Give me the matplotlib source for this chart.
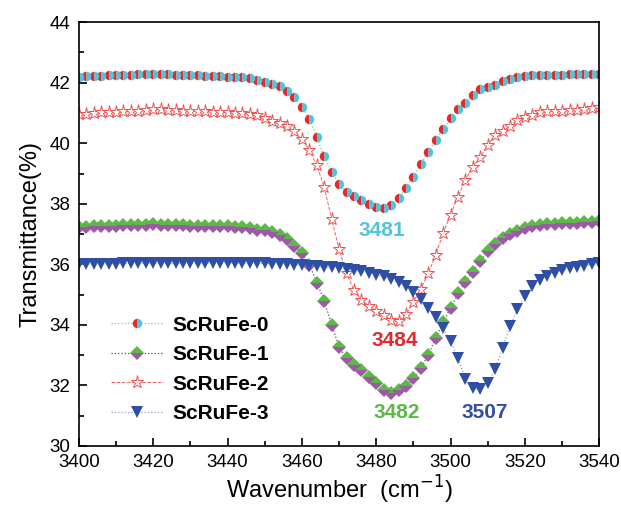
import matplotlib
matplotlib.use("Agg")
import matplotlib.pyplot as plt
import numpy as np
from matplotlib.ticker import MultipleLocator

plt.rcParams['font.family'] = ['Liberation Sans', 'DejaVu Sans']

# wavenumber grid (cm-1)
wavenumber = np.arange(3400, 3541, 2)

scrufe0 = [42.20, 42.22, 42.23, 42.23, 42.24, 42.25, 42.26, 42.27, 42.28, 42.30,
           42.30, 42.29, 42.28, 42.27, 42.26, 42.25, 42.24, 42.23, 42.22, 42.21,
           42.20, 42.19, 42.18, 42.16, 42.08, 42.02, 41.97, 41.89, 41.73, 41.52,
           41.21, 40.80, 40.20, 39.58, 39.05, 38.66, 38.40, 38.27, 38.14, 38.00,
           37.90, 37.86, 37.96, 38.20, 38.51, 38.90, 39.33, 39.70, 40.10, 40.46,
           40.83, 41.12, 41.32, 41.58, 41.79, 41.87, 41.94, 42.05, 42.13, 42.19,
           42.22, 42.24, 42.25, 42.26, 42.27, 42.27, 42.28, 42.30, 42.28, 42.28,
           42.30]

scrufe1 = [37.22, 37.24, 37.25, 37.26, 37.27, 37.28, 37.29, 37.30, 37.31, 37.31,
           37.32, 37.31, 37.30, 37.30, 37.29, 37.28, 37.28, 37.27, 37.26, 37.26,
           37.25, 37.24, 37.23, 37.20, 37.15, 37.12, 37.06, 36.98, 36.84, 36.62,
           36.37, 35.98, 35.40, 34.80, 34.00, 33.27, 32.89, 32.67, 32.52, 32.28,
           32.09, 31.84, 31.76, 31.86, 31.99, 32.23, 32.56, 33.02, 33.57, 34.09,
           34.55, 35.04, 35.42, 35.76, 36.12, 36.43, 36.66, 36.86, 37.00, 37.10,
           37.19, 37.25, 37.30, 37.33, 37.34, 37.35, 37.36, 37.37, 37.39, 37.41,
           37.44]

scrufe2 = [40.98, 40.98, 41.00, 41.02, 41.03, 41.04, 41.05, 41.06, 41.08, 41.10,
           41.12, 41.12, 41.11, 41.10, 41.08, 41.07, 41.06, 41.05, 41.04, 41.03,
           41.02, 41.00, 40.99, 40.96, 40.93, 40.85, 40.74, 40.67, 40.56, 40.40,
           40.13, 39.78, 39.27, 38.55, 37.50, 36.50, 35.70, 35.15, 34.83, 34.63,
           34.46, 34.32, 34.16, 34.12, 34.35, 34.75, 35.20, 35.70, 36.32, 37.03,
           37.64, 38.23, 38.80, 39.22, 39.53, 39.94, 40.27, 40.39, 40.58, 40.76,
           40.86, 40.94, 41.02, 41.05, 41.07, 41.08, 41.09, 41.11, 41.13, 41.17,
           41.20]

scrufe3 = [36.00, 36.01, 36.01, 36.02, 36.02, 36.02, 36.03, 36.03, 36.03, 36.04,
           36.04, 36.04, 36.03, 36.03, 36.03, 36.03, 36.04, 36.05, 36.06, 36.06,
           36.06, 36.05, 36.04, 36.04, 36.03, 36.03, 36.02, 36.01, 36.00, 35.99,
           35.98, 35.96, 35.94, 35.91, 35.90, 35.87, 35.84, 35.80, 35.77, 35.71,
           35.66, 35.60, 35.50, 35.41, 35.29, 35.08, 34.85, 34.57, 34.27, 33.89,
           33.47, 32.90, 32.20, 31.90, 31.87, 32.08, 32.55, 33.25, 33.95, 34.52,
           34.96, 35.29, 35.48, 35.63, 35.73, 35.80, 35.87, 35.92, 35.96, 36.00,
           36.03]

labels = ['ScRuFe-0', 'ScRuFe-1', 'ScRuFe-2', 'ScRuFe-3']
peaks = ['3481', '3484', '3482', '3507']

cyan = '#4fc4da'
red = '#e3292b'
green = '#5cb847'
purple = '#9c5aa5'
blue = '#2f4ea6'

fig = plt.figure(figsize=(6.21, 5.15), dpi=100)
ax = fig.add_axes([0.127, 0.134, 0.838, 0.823])

ax.plot(wavenumber, scrufe0, ls=':', lw=0.9, color='#7fd07a', marker='o', ms=6.8,
        fillstyle='left', markerfacecolor=red, markerfacecoloralt=cyan,
        markeredgewidth=0, label=labels[0])
ax.plot(wavenumber, scrufe1, ls=':', lw=0.9, color='#555555', marker='D', ms=7.3,
        fillstyle='top', markerfacecolor=green, markerfacecoloralt=purple,
        markeredgewidth=0, label=labels[1])
ax.plot(wavenumber, scrufe2, ls='--', lw=0.7, color='#f06060', marker='*', ms=9.5,
        markerfacecolor='white', markeredgecolor='#f05050', markeredgewidth=0.7,
        label=labels[2])
ax.plot(wavenumber, scrufe3, ls=':', lw=0.9, color='#8f9fd6', marker='v', ms=8.5,
        markerfacecolor=blue, markeredgewidth=0, label=labels[3])

ax.text(3481.6, 37.13, peaks[0], color=cyan, fontsize=15, fontweight='bold',
        ha='center', va='center')
ax.text(3485.1, 33.5, peaks[1], color=red, fontsize=15, fontweight='bold',
        ha='center', va='center')
ax.text(3485.6, 31.09, peaks[2], color=green, fontsize=15, fontweight='bold',
        ha='center', va='center')
ax.text(3509.1, 31.09, peaks[3], color=blue, fontsize=15, fontweight='bold',
        ha='center', va='center')

ax.set_xlim(3400, 3540)
ax.set_ylim(30, 44)
ax.xaxis.set_major_locator(MultipleLocator(20))
ax.xaxis.set_minor_locator(MultipleLocator(10))
ax.yaxis.set_major_locator(MultipleLocator(2))
ax.yaxis.set_minor_locator(MultipleLocator(1))
ax.tick_params(which='both', direction='in', labelsize=13.5, width=1.2)
ax.tick_params(which='major', length=6, pad=6)
ax.tick_params(which='minor', length=3.5)
for s in ax.spines.values():
    s.set_linewidth(1.2)

ax.set_xlabel('Wavenumber  (cm$^{-1}$)', fontsize=17, labelpad=2)
ax.set_ylabel('Transmittance(%)', fontsize=17, labelpad=6)

leg = ax.legend(loc='upper left', bbox_to_anchor=(0.045, 0.327), frameon=False,
                prop={'weight': 'bold', 'size': 15}, handlelength=2.5,
                labelspacing=0.5, handletextpad=0.45, borderaxespad=0)

fig.savefig('out.png', dpi=100)
